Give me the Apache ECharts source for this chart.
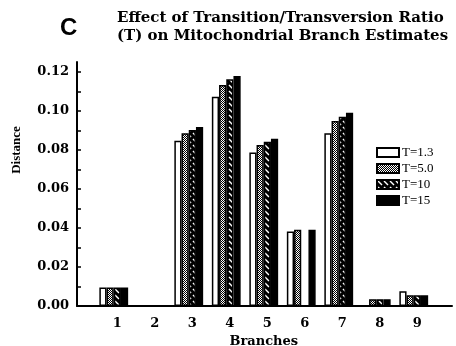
<!DOCTYPE html>
<html>
<head>
<meta charset="utf-8">
<script src="https://cdn.jsdelivr.net/npm/echarts@6/dist/echarts.min.js"></script>
<style>
  html, body { margin: 0; padding: 0; background: #fff; }
  #chart { width: 456px; height: 346px; }
</style>
</head>
<body>
<div id="chart"></div>
<script>
// Branch labels along the x axis
const branches = ['1', '2', '3', '4', '5', '6', '7', '8', '9'];

// Estimated branch lengths (distance) for each transition/transversion ratio
const seriesNames = ['T=1.3', 'T=5.0', 'T=10', 'T=15'];
const t13 = [0.0095, 0, 0.0846, 0.1072, 0.0786, 0.0382, 0.0885, 0, 0.0076];
const t50 = [0.0095, 0, 0.0885, 0.1132, 0.0825, 0.0391, 0.0948, 0.0035, 0.0055];
const t10 = [0.0095, 0, 0.0902, 0.1161, 0.0842, null, 0.0970, 0.0035, 0.0055];
const t15 = [0.0095, 0, 0.0917, 0.1178, 0.0857, 0.0391, 0.0990, 0.0035, 0.0055];

// Value axis range
const yMin = 0;
const yMax = 0.125;
const yStep = 0.01;

// Fill patterns built on small canvases
function dotPattern() {
  const c = document.createElement('canvas');
  c.width = 2; c.height = 2;
  const g = c.getContext('2d');
  g.fillStyle = '#fff'; g.fillRect(0, 0, 2, 2);
  g.fillStyle = '#000';
  g.fillRect(0, 0, 1, 1);
  g.fillRect(1, 1, 1, 1);
  return { image: c, repeat: 'repeat' };
}
function hatchPattern() {
  const c = document.createElement('canvas');
  c.width = 6; c.height = 6;
  const g = c.getContext('2d');
  g.fillStyle = '#000'; g.fillRect(0, 0, 6, 6);
  g.strokeStyle = '#fff'; g.lineWidth = 1.4;
  g.beginPath();
  g.moveTo(1, 1); g.lineTo(5, 5);
  g.stroke();
  return { image: c, repeat: 'repeat' };
}

const fills = ['#ffffff', dotPattern(), hatchPattern(), '#000000'];
const values = [t13, t50, t10, t15];

const serifBold = '"DejaVu Serif", serif';

const chart = echarts.init(document.getElementById('chart'), null, { renderer: 'canvas' });

const option = {
  animation: false,
  backgroundColor: '#ffffff',
  title: {
    text: 'Effect of Transition/Transversion Ratio\n(T) on Mitochondrial Branch Estimates',
    left: 112,
    top: 4,
    textStyle: {
      fontFamily: serifBold,
      fontWeight: 'bold',
      fontSize: 15,
      lineHeight: 18,
      color: '#000'
    }
  },
  graphic: [
    {
      type: 'text',
      left: 60,
      top: 16,
      style: {
        text: 'C',
        fontFamily: '"Liberation Sans", Arial, sans-serif',
        fontWeight: 'bold',
        fontSize: 24,
        fill: '#000'
      }
    },
    {
      type: 'text',
      x: 17,
      y: 150,
      rotation: Math.PI / 2,
      style: {
        text: 'Distance',
        fontFamily: '"Liberation Serif", serif',
        fontWeight: 'bold',
        fontSize: 13,
        fill: '#000',
        align: 'center',
        verticalAlign: 'middle'
      }
    }
  ],
  legend: {
    orient: 'vertical',
    left: 371,
    top: 141,
    itemWidth: 22,
    itemHeight: 9,
    itemGap: 3,
    icon: 'rect',
    data: seriesNames,
    textStyle: {
      fontFamily: '"Liberation Serif", serif',
      fontSize: 13,
      color: '#000',
      padding: [0, 0, 0, -2]
    }
  },
  grid: [
    { left: 77, right: 4, top: 62, bottom: 40, containLabel: false, outerBoundsMode: 'none' },
    { left: 95, width: 337.5, top: 62, bottom: 40, containLabel: false, outerBoundsMode: 'none' }
  ],
  xAxis: [
    {
      gridIndex: 0,
      type: 'value',
      min: 0,
      max: 1,
      axisLine: { show: true, onZero: false, lineStyle: { color: '#000', width: 2 } },
      axisTick: { show: false },
      axisLabel: { show: false },
      splitLine: { show: false }
    },
    {
      gridIndex: 1,
      type: 'category',
      data: branches,
      axisLine: { show: false },
      axisTick: { show: false },
      axisLabel: {
        margin: 11,
        padding: [0, 0, 0, 7],
        fontFamily: serifBold,
        fontWeight: 'bold',
        fontSize: 13,
        color: '#000'
      },
      name: 'Branches',
      nameLocation: 'middle',
      nameGap: 25,
      nameTextStyle: {
        fontFamily: serifBold,
        fontWeight: 'bold',
        fontSize: 13,
        color: '#000',
        padding: [0, 0, 0, 0]
      }
    }
  ],
  yAxis: [
    {
      gridIndex: 0,
      type: 'value',
      min: yMin,
      max: yMax,
      interval: yStep,
      axisLine: { show: true, lineStyle: { color: '#000', width: 2 } },
      axisTick: { show: true, inside: true, length: 4, lineStyle: { color: '#000', width: 1.5 } },
      axisLabel: {
        margin: 8,
        fontFamily: serifBold,
        fontWeight: 'bold',
        fontSize: 13,
        color: '#000',
        showMaxLabel: false,
        formatter: function (v) {
          const k = Math.round(v * 100);
          if (Math.abs(v * 100 - k) > 1e-6 || k % 2 !== 0) return '';
          return v.toFixed(2);
        }
      },
      splitLine: { show: false }
    },
    {
      gridIndex: 1,
      type: 'value',
      min: yMin,
      max: yMax,
      show: false
    }
  ],
  series: seriesNames.map(function (name, i) {
    return {
      name: name,
      type: 'bar',
      xAxisIndex: 1,
      yAxisIndex: 1,
      data: values[i],
      barWidth: 7.2,
      barGap: '0%',
      itemStyle: {
        color: fills[i],
        borderColor: '#000',
        borderWidth: 1.5
      }
    };
  })
};

chart.setOption(option);
</script>
</body>
</html>
